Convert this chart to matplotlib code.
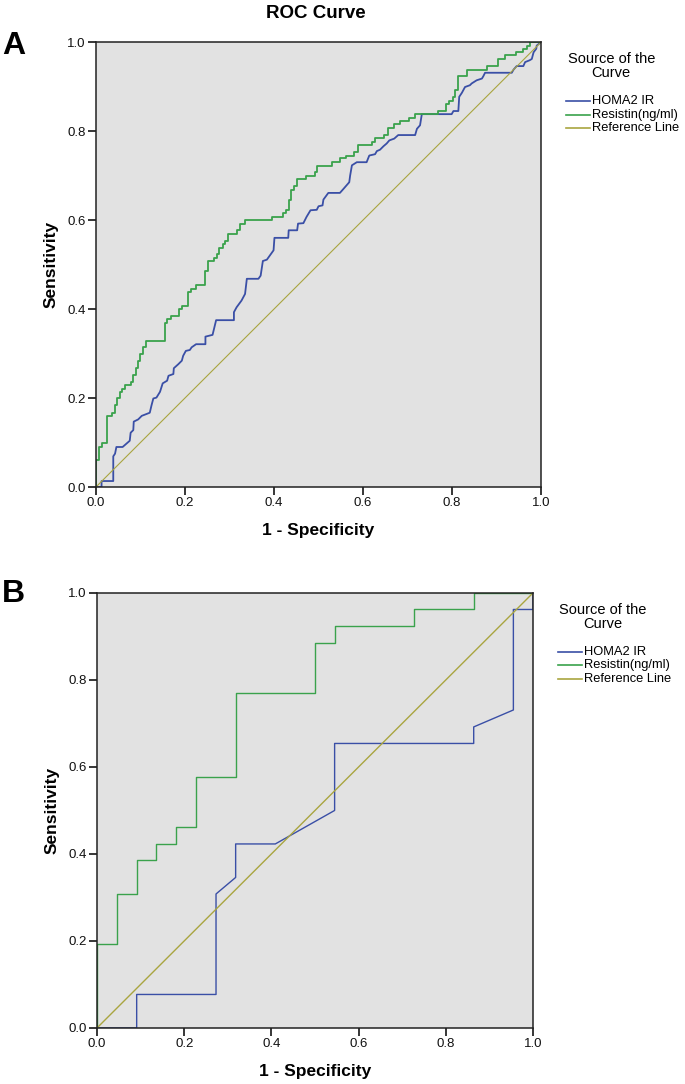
import matplotlib
matplotlib.use("Agg")
import matplotlib.pyplot as plt

plt.rcParams['font.family'] = ['Liberation Sans', 'DejaVu Sans']

# panel A: Resistin (step curve, points at top of each rise)
resA_fpr = [0, 0, 0.006, 0.0135, 0.026, 0.037, 0.043, 0.048, 0.054, 0.058, 0.066, 0.078, 0.084,
            0.089, 0.094, 0.100, 0.106, 0.112, 0.155, 0.160, 0.168, 0.187, 0.194, 0.206, 0.213,
            0.225, 0.246, 0.252, 0.265, 0.273, 0.277, 0.285, 0.291, 0.297, 0.316, 0.324, 0.335,
            0.395, 0.421, 0.427, 0.433, 0.438, 0.445, 0.452, 0.472, 0.492, 0.497, 0.530, 0.548,
            0.561, 0.580, 0.588, 0.619, 0.627, 0.646, 0.657, 0.670, 0.683, 0.703, 0.717, 0.768,
            0.787, 0.794, 0.801, 0.807, 0.813, 0.833, 0.878, 0.904, 0.919, 0.944, 0.960, 0.968,
            0.974, 1.0]
resA_tpr = [0, 0.060, 0.090, 0.098, 0.160, 0.167, 0.184, 0.199, 0.214, 0.221, 0.229, 0.236, 0.252,
            0.267, 0.284, 0.299, 0.314, 0.329, 0.368, 0.377, 0.384, 0.399, 0.407, 0.438, 0.444,
            0.453, 0.485, 0.508, 0.515, 0.523, 0.538, 0.546, 0.553, 0.569, 0.577, 0.592, 0.599,
            0.607, 0.616, 0.623, 0.646, 0.668, 0.676, 0.692, 0.700, 0.707, 0.722, 0.730, 0.739,
            0.745, 0.752, 0.769, 0.776, 0.784, 0.791, 0.806, 0.815, 0.823, 0.830, 0.838, 0.845,
            0.860, 0.868, 0.877, 0.892, 0.923, 0.938, 0.946, 0.962, 0.970, 0.977, 0.985, 0.992,
            1.0, 1.0]

# panel A: HOMA2 IR (polyline, has tied segments)
homaA_fpr = [0, 0.0127, 0.0127, 0.039, 0.039, 0.043, 0.046, 0.060, 0.076, 0.078, 0.084, 0.085,
             0.095, 0.103, 0.121, 0.125, 0.129, 0.136, 0.144, 0.150, 0.160, 0.163, 0.174, 0.175,
             0.185, 0.193, 0.196, 0.202, 0.211, 0.215, 0.225, 0.246, 0.246, 0.262, 0.270, 0.310,
             0.310, 0.316, 0.327, 0.335, 0.339, 0.365, 0.370, 0.375, 0.384, 0.399, 0.401, 0.432,
             0.433, 0.452, 0.454, 0.466, 0.473, 0.482, 0.496, 0.500, 0.509, 0.511, 0.522, 0.548,
             0.556, 0.569, 0.571, 0.575, 0.586, 0.608, 0.614, 0.627, 0.631, 0.638, 0.646, 0.653,
             0.659, 0.670, 0.679, 0.717, 0.721, 0.728, 0.732, 0.799, 0.803, 0.814, 0.816, 0.822,
             0.829, 0.840, 0.844, 0.855, 0.867, 0.870, 0.874, 0.934, 0.938, 0.945, 0.960, 0.964,
             0.974, 0.979, 0.983, 0.989, 0.990, 1.0]
homaA_tpr = [0, 0, 0.0135, 0.0135, 0.069, 0.075, 0.090, 0.090, 0.104, 0.122, 0.128, 0.147,
             0.152, 0.160, 0.167, 0.184, 0.199, 0.201, 0.214, 0.233, 0.239, 0.250, 0.254, 0.267,
             0.276, 0.284, 0.295, 0.306, 0.308, 0.314, 0.321, 0.321, 0.338, 0.342, 0.375, 0.375,
             0.393, 0.404, 0.419, 0.434, 0.468, 0.468, 0.475, 0.508, 0.511, 0.532, 0.560, 0.560,
             0.577, 0.577, 0.592, 0.593, 0.607, 0.622, 0.623, 0.631, 0.633, 0.646, 0.661, 0.661,
             0.670, 0.685, 0.700, 0.723, 0.730, 0.730, 0.745, 0.748, 0.755, 0.758, 0.766, 0.772,
             0.779, 0.783, 0.791, 0.791, 0.805, 0.813, 0.838, 0.838, 0.845, 0.845, 0.877, 0.886,
             0.899, 0.903, 0.907, 0.914, 0.918, 0.923, 0.931, 0.931, 0.938, 0.946, 0.946, 0.955,
             0.959, 0.962, 0.977, 0.985, 0.992, 1.0]

# panel B
resB_fpr = [0, 0, 0.045, 0.091, 0.136, 0.182, 0.227, 0.318, 0.500, 0.545, 0.727, 0.864, 1.0]
resB_tpr = [0, 0.192, 0.308, 0.385, 0.423, 0.462, 0.577, 0.769, 0.885, 0.923, 0.962, 1.0, 1.0]
homaB_fpr = [0, 0.091, 0.091, 0.273, 0.273, 0.318, 0.318, 0.409, 0.545, 0.545, 0.864, 0.864,
             0.955, 0.955, 1.0, 1.0]
homaB_tpr = [0, 0, 0.077, 0.077, 0.308, 0.346, 0.423, 0.423, 0.500, 0.654, 0.654, 0.692,
             0.731, 0.962, 0.962, 1.0]

ticks = [0.0, 0.2, 0.4, 0.6, 0.8, 1.0]
tick_labels = ["0.0", "0.2", "0.4", "0.6", "0.8", "1.0"]
series_names = ["HOMA2 IR", "Resistin(ng/ml)", "Reference Line"]

c_blue = "#3a4fa6"
c_green = "#3aa24c"
c_ref = "#a9a540"
colors = [c_blue, c_green, c_ref]

fig = plt.figure(figsize=(6.85, 10.84), dpi=100)
axA = fig.add_axes([0.140, 0.5507, 0.650, 0.4105])
axB = fig.add_axes([0.1416, 0.0517, 0.6365, 0.4013])


def style(ax, wpx, hpx):
    ax.set_facecolor("#e2e2e2")
    ax.set_xlim(0, 1)
    ax.set_ylim(0, 1)
    ax.set_xticks(ticks)
    ax.set_xticklabels(tick_labels)
    ax.set_yticks(ticks)
    ax.set_yticklabels(tick_labels)
    ax.tick_params(direction="out", length=6, width=1.1, pad=1.5, labelsize=9.5, labelcolor="#111111")
    for s in ax.spines.values():
        s.set_linewidth(1.1)
        s.set_color("#222222")
    ax.set_xlabel("1 - Specificity", fontsize=12.5, fontweight="bold", labelpad=10)
    ax.set_ylabel("Sensitivity", fontsize=12.5, fontweight="bold", labelpad=6)
    # legend drawn by hand, offsets in pixels from the top-right corner
    ax.text(1 + 70 / wpx, 1 - 24 / hpx, "Source of the\nCurve", transform=ax.transAxes,
            ha="center", va="center", multialignment="center", fontsize=10.5, linespacing=1.05)
    for i, (name, col) in enumerate(zip(series_names, colors)):
        yy = 1 - (59 + 13.5 * i) / hpx
        ax.plot([1 + 25 / wpx, 1 + 49 / wpx], [yy, yy], color=col, lw=1.2,
                transform=ax.transAxes, clip_on=False)
        ax.text(1 + 51 / wpx, yy, name, transform=ax.transAxes, ha="left", va="center",
                fontsize=9.3)


axA.plot(homaA_fpr, homaA_tpr, color=c_blue, lw=1.3)
axA.plot(resA_fpr, resA_tpr, color=c_green, lw=1.3, drawstyle="steps-post")
axA.plot([0, 1], [0, 1], color=c_ref, lw=0.8)
style(axA, 445, 445)

axB.plot(homaB_fpr, homaB_tpr, color=c_blue, lw=1.0)
axB.plot(resB_fpr, resB_tpr, color=c_green, lw=1.0, drawstyle="steps-post")
axB.plot([0, 1], [0, 1], color=c_ref, lw=1.0)
style(axB, 436, 435)

fig.text(0.461, 0.9875, "ROC Curve", ha="center", va="center", fontsize=13.5, fontweight="bold")
fig.text(0.003, 0.958, "A", ha="left", va="center", fontsize=23, fontweight="bold")
fig.text(0.003, 0.452, "B", ha="left", va="center", fontsize=23, fontweight="bold")

fig.savefig("out.png", dpi=100)
